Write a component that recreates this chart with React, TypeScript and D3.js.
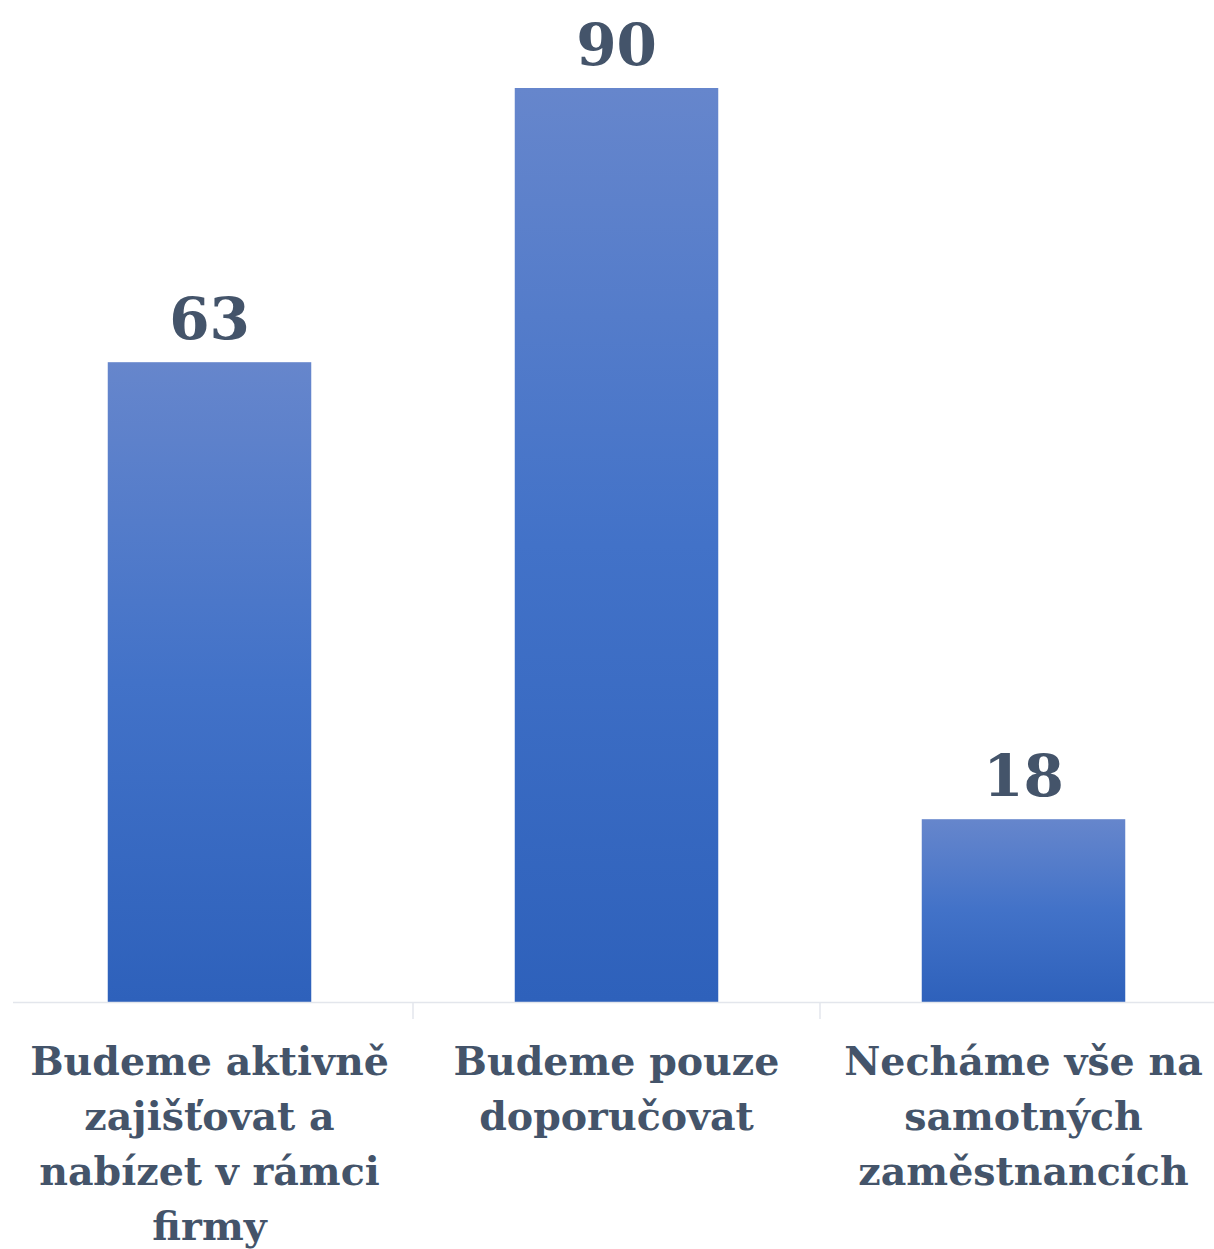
import React from "react";
import * as d3 from "d3";

const categories = [
  ["Budeme aktivně", "zajišťovat a", "nabízet v rámci", "firmy"],
  ["Budeme pouze", "doporučovat"],
  ["Necháme vše na", "samotných", "zaměstnancích"],
];
const values = [63, 90, 18];

const W = 1214;
const H = 1249;
const baseY = 1002;
const textColor = "#44546a";
const font = "'DejaVu Serif', serif";

export default function App() {
  const keys = categories.map((c, i) => String(i));
  const x = d3.scaleBand<string>().domain(keys).range([6, 1227]).paddingInner(0.5).paddingOuter(0.25);
  const y = d3.scaleLinear().domain([0, 90]).range([baseY, 88]);
  const step = x.step();
  const bandStart = (i: number) => (x(String(i)) as number) - (step * 0.25);
  const mid = (i: number) => (x(String(i)) as number) + x.bandwidth() / 2;

  return (
    <svg width={W} height={H} style={{ position: "absolute", left: 0, top: 0, background: "#fff" }}>
      <defs>
        <linearGradient id="barGrad" x1="0" y1="0" x2="0" y2="1">
          <stop offset="0" stopColor="#6686cc" />
          <stop offset="0.5" stopColor="#4272c8" />
          <stop offset="1" stopColor="#2e61bb" />
        </linearGradient>
      </defs>
      {values.map((v, i) => (
        <rect
          key={"b" + i}
          x={x(String(i))}
          y={y(v)}
          width={x.bandwidth()}
          height={baseY - y(v)}
          fill="url(#barGrad)"
        />
      ))}
      <line x1={13} x2={1214} y1={baseY + 0.5} y2={baseY + 0.5} stroke="#e3e6ec" strokeWidth={1.5} />
      {[1, 2].map((i) => (
        <line
          key={"t" + i}
          x1={bandStart(i)}
          x2={bandStart(i)}
          y1={baseY}
          y2={baseY + 17}
          stroke="#e3e6ec"
          strokeWidth={1.5}
        />
      ))}
      {values.map((v, i) => (
        <text
          key={"v" + i}
          x={mid(i)}
          y={y(v) - 23}
          textAnchor="middle"
          fontFamily={font}
          fontWeight="bold"
          fontSize={58}
          fill={textColor}
        >
          {v}
        </text>
      ))}
      {categories.map((lines, i) => (
        <text
          key={"c" + i}
          textAnchor="middle"
          fontFamily={font}
          fontWeight="bold"
          fontSize={39.5}
          fill={textColor}
        >
          {lines.map((l, j) => (
            <tspan key={j} x={mid(i)} y={1075 + j * 55}>
              {l}
            </tspan>
          ))}
        </text>
      ))}
    </svg>
  );
}
